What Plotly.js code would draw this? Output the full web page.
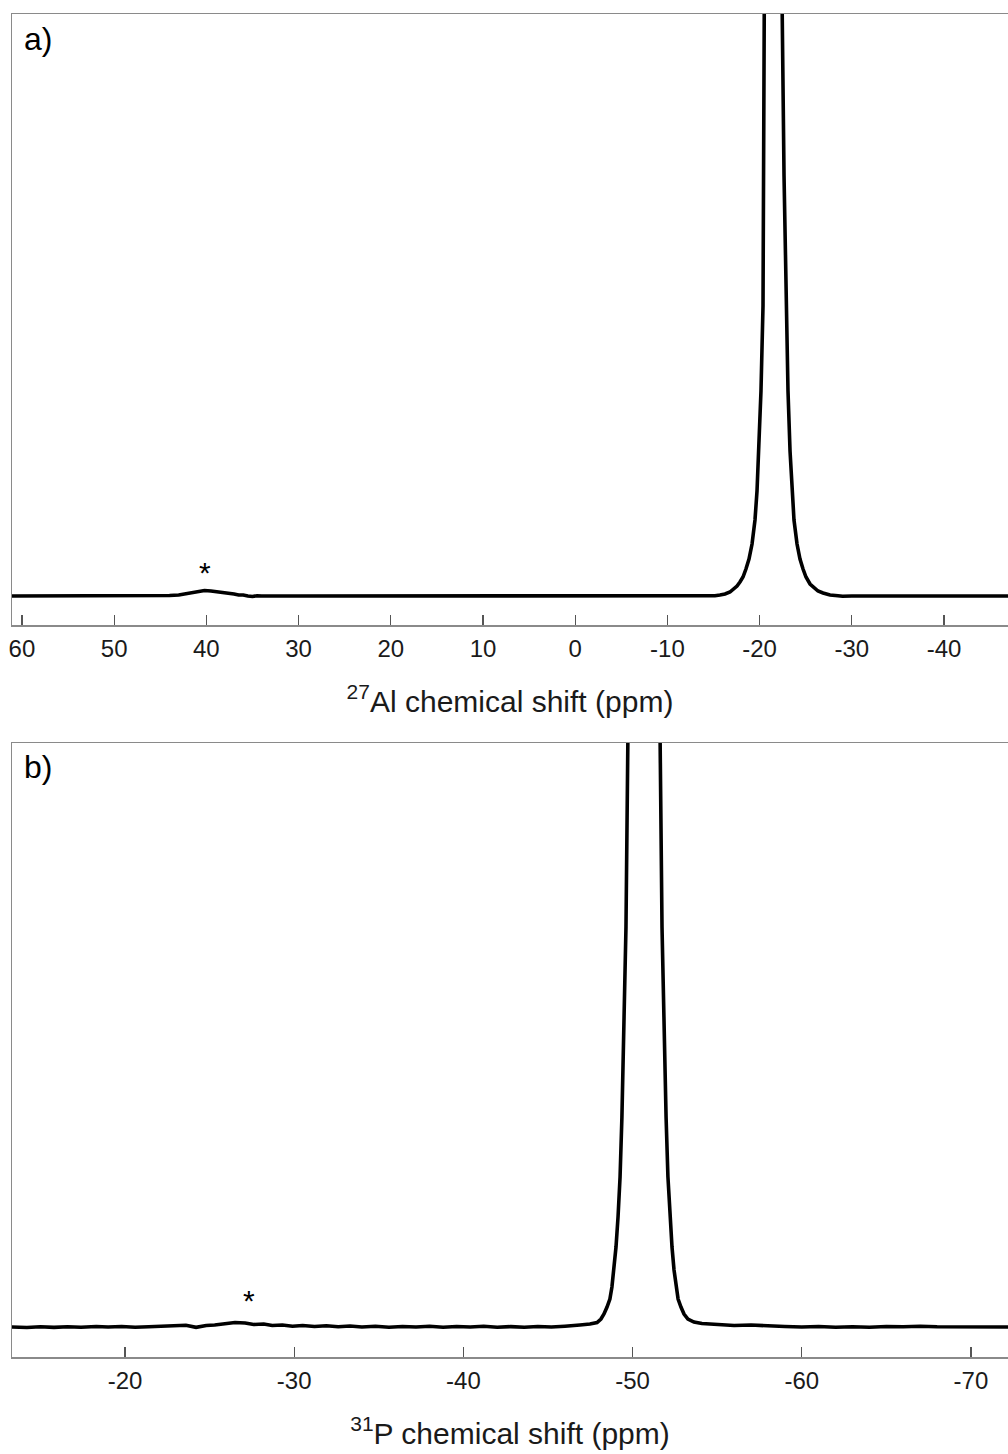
<!DOCTYPE html>
<html>
<head>
<meta charset="utf-8">
<script src="https://cdn.plot.ly/plotly-3.0.1.min.js"></script>
<style>html,body{margin:0;padding:0;background:#fff;}#chart{width:1008px;height:1454px;}</style>
</head>
<body>
<div id="chart"></div>
<script>
// Panel a: 27Al spectrum (ppm, intensity in arbitrary units; peak top is off-scale)
var alShift = [61.1, 55, 50, 46, 45, 44.5, 44, 43, 42, 41, 40.2, 39.5, 39, 38, 37, 36.5, 36, 35.5, 35, 34.5, 34, 30, 20, 10, 0, -10, -11, -12, -14, -15.16, -15.70, -16.25, -16.79, -17.22, -17.55, -17.87, -18.20, -18.52, -18.85, -19.18, -19.50, -19.72, -19.93, -20.15, -20.37, -20.59, -20.80, -21.02, -21.61, -22.22, -22.43, -22.65, -22.86, -23.08, -23.30, -23.51, -23.73, -24.06, -24.38, -24.71, -25.03, -25.47, -25.90, -26.33, -26.88, -27.64, -28.5, -29, -30, -32, -35, -40, -47];
var alIntensity = [0, 0, 0, 0, 0.3, -0.3, 0.5, 1, 2.5, 4.5, 5.5, 5, 4.5, 3, 2, 1, 1, 0, -0.5, 0.3, 0, 0, 0, 0, 0, 0.3, -0.3, 0, 0.3, 0.3, 1, 2, 4, 7, 10, 14, 19, 27, 37, 52, 76, 105, 145, 205, 290, 420, 600, 1000, 3000, 1000, 600, 420, 290, 205, 145, 105, 76, 52, 37, 27, 19, 12, 8, 5, 3, 1, 0.3, -0.3, 0, 0.2, 0, 0, 0];

// Panel b: 31P spectrum
var pShift = [-13.3, -14.2, -15.0, -15.8, -16.6, -17.4, -18.3, -19.0, -19.8, -20.6, -21.4, -22.2, -23.0, -23.6, -24.2, -24.8, -25.3, -25.9, -26.5, -27.1, -27.6, -28.2, -28.7, -29.3, -29.9, -30.5, -31.2, -31.9, -32.6, -33.3, -34.0, -34.8, -35.6, -36.4, -37.2, -38.0, -38.8, -39.6, -40.4, -41.2, -42.0, -42.8, -43.6, -44.4, -45.2, -46.0, -46.5, -46.89, -47.48, -47.90, -48.13, -48.31, -48.49, -48.66, -48.78, -48.90, -49.02, -49.14, -49.26, -49.37, -49.49, -49.61, -49.73, -49.85, -50.67, -51.50, -51.62, -51.74, -51.86, -51.98, -52.09, -52.21, -52.33, -52.45, -52.57, -52.69, -52.86, -53.04, -53.27, -53.63, -54.10, -54.87, -56, -57, -58, -59, -60, -61, -62, -63, -64, -65, -66, -67, -68, -69, -70, -71, -72.2];
var pIntensity = [0, -0.5, 0.3, -0.4, 0.2, -0.3, 0.5, 0, 0.5, -0.3, 0.2, 0.5, 1, 1.8, -0.3, 1.5, 2, 3.5, 4.5, 4, 2.5, 3, 1.5, 2, 0.8, 1.5, 0.5, 1.2, 0.3, 1, 0, 0.8, -0.3, 0.5, 0, 0.8, -0.2, 0.5, 0, 0.7, -0.3, 0.4, -0.2, 0.5, 0, 0.8, 1, 2, 3, 4.5, 8, 13, 20, 28, 40, 57, 80, 110, 150, 210, 290, 400, 600, 1000, 3000, 1000, 600, 400, 290, 210, 150, 110, 80, 57, 40, 28, 20, 13, 8, 5, 3.5, 2.5, 1.5, 2, 0.8, 0.5, 0, 0.5, -0.3, 0.3, -0.2, 0.5, 0.2, 0.8, 0.3, 0.4, 0, 0.6, 0];

// Tick labels
var alTicks = [60, 50, 40, 30, 20, 10, 0, -10, -20, -30, -40];
var alTickText = ["60", "50", "40", "30", "20", "10", "0", "-10", "-20", "-30", "-40"];
var pTicks = [-20, -30, -40, -50, -60, -70];
var pTickText = ["-20", "-30", "-40", "-50", "-60", "-70"];

// Spinning sideband markers
var markerA = {x: 40.2, y: 5.5, label: "*"};
var markerB = {x: -27.3, y: 4.5, label: "*"};

var H = 1454, W = 1008;
function fy(px) { return 1 - px / H; }
var FONT = "Liberation Sans, Arial, sans-serif";

var lineStyle = {color: "#000", width: 3.6};
var traces = [
  {x: alShift, y: alIntensity, type: "scatter", mode: "lines", line: lineStyle, xaxis: "x", yaxis: "y", hoverinfo: "skip"},
  {x: pShift, y: pIntensity, type: "scatter", mode: "lines", line: lineStyle, xaxis: "x2", yaxis: "y2", hoverinfo: "skip"}
];

var axisCommon = {
  showline: true, linecolor: "#8a8a8a", linewidth: 1.5, mirror: true,
  ticks: "inside", ticklen: 10, tickcolor: "#555", tickwidth: 1.2,
  showgrid: false, zeroline: false,
  tickfont: {family: FONT, size: 24, color: "#1a1a1a"},
  ticklabelstandoff: 2,
  tickmode: "array"
};
var xa = Object.assign({}, axisCommon, {
  domain: [12 / W, 1], range: [61.08, -46.94], anchor: "y",
  tickvals: alTicks, ticktext: alTickText,
  title: {text: "<sup>27</sup>Al chemical shift (ppm)", font: {family: FONT, size: 30, color: "#1a1a1a"}, standoff: 29}
});
var xb = Object.assign({}, axisCommon, {
  domain: [12 / W, 1], range: [-13.32, -72.19], anchor: "y2",
  tickvals: pTicks, ticktext: pTickText,
  title: {text: "<sup>31</sup>P chemical shift (ppm)", font: {family: FONT, size: 30, color: "#1a1a1a"}, standoff: 29}
});
var yCommon = {showline: true, linecolor: "#8a8a8a", linewidth: 1.5, mirror: false, showticklabels: false, ticks: "", showgrid: false, zeroline: false};
var ya = Object.assign({}, yCommon, {domain: [fy(625), fy(14)], range: [-29, 582], anchor: "x"});
var yb = Object.assign({}, yCommon, {domain: [fy(1357), fy(743)], range: [-30, 584], anchor: "x2"});

var annFont = {family: FONT, size: 32, color: "#000"};
var starFont = {family: FONT, size: 30, color: "#000"};
var layout = {
  width: W, height: H,
  margin: {l: 0, r: 0, t: 0, b: 0},
  paper_bgcolor: "#fff", plot_bgcolor: "#fff",
  showlegend: false,
  xaxis: xa, yaxis: ya, xaxis2: xb, yaxis2: yb,
  annotations: [
    {text: "a)", xref: "paper", yref: "paper", x: 22 / W, y: fy(19), xanchor: "left", yanchor: "top", showarrow: false, font: annFont},
    {text: "b)", xref: "paper", yref: "paper", x: 22 / W, y: fy(747), xanchor: "left", yanchor: "top", showarrow: false, font: annFont},
    {text: markerA.label, x: markerA.x, y: markerA.y, xref: "x", yref: "y", yshift: 18, showarrow: false, font: starFont},
    {text: markerB.label, x: markerB.x, y: markerB.y, xref: "x2", yref: "y2", yshift: 22, showarrow: false, font: starFont}
  ]
};

Plotly.newPlot("chart", traces, layout, {staticPlot: true, displayModeBar: false});
</script>
</body>
</html>
